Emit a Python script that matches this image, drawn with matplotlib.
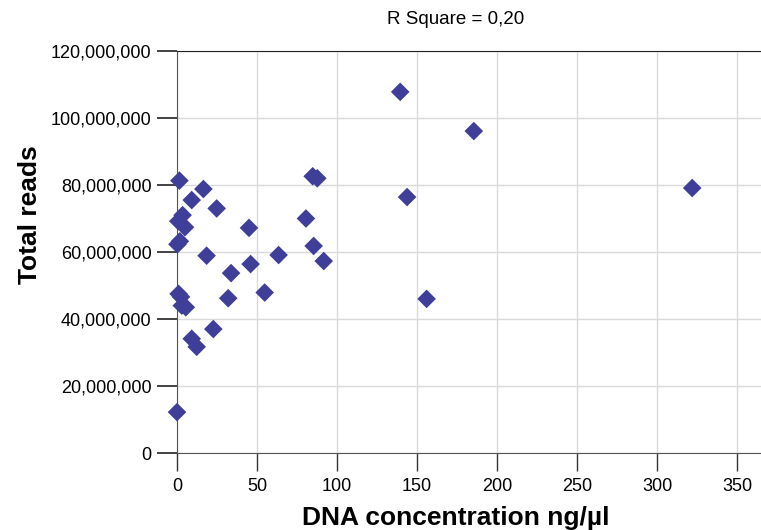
import matplotlib
matplotlib.use("Agg")
import matplotlib.pyplot as plt
from matplotlib.ticker import FuncFormatter

# DNA concentration (ng/ul) and total reads
dna_conc = [139.5, 185.5, 322.0, 143.8, 156.0, 0.0,
            1.5, 16.5, 9.2, 24.8, 84.8, 87.7, 80.6,
            3.5, 0.8, 5.0, 1.8, 0.3, 45.0, 18.5, 85.4,
            91.7, 63.5, 46.0, 33.8, 1.0, 2.5, 3.0, 5.5,
            32.0, 54.8, 22.7, 9.2, 12.3]
total_reads = [107.8e6, 96.1e6, 79.1e6, 76.4e6, 46.0e6, 12.2e6,
               81.3e6, 78.8e6, 75.5e6, 73.0e6, 82.6e6, 82.0e6, 70.0e6,
               71.0e6, 69.2e6, 67.4e6, 63.2e6, 62.3e6, 67.2e6, 58.9e6, 61.8e6,
               57.3e6, 59.1e6, 56.4e6, 53.7e6, 47.5e6, 46.6e6, 44.0e6, 43.5e6,
               46.2e6, 47.9e6, 37.0e6, 34.1e6, 31.7e6]

r_square = "R Square = 0,20"
x_ticks = [0, 50, 100, 150, 200, 250, 300, 350]
y_ticks = [0, 20e6, 40e6, 60e6, 80e6, 100e6, 120e6]

plt.rcParams['font.family'] = ['Liberation Sans', 'DejaVu Sans']

fig = plt.figure(figsize=(7.61, 5.30), dpi=100)
ax = fig.add_axes([177 / 761, 1 - 453 / 530, 1 - 177 / 761, (453 - 51) / 530])

ax.scatter(dna_conc, total_reads, marker='D', s=90, color='#3f3f99',
           edgecolors='none', zorder=3, clip_on=False)

ax.set_xlim(0, 365)
ax.set_ylim(0, 120e6)
ax.set_xticks(x_ticks)
ax.set_yticks(y_ticks)
ax.yaxis.set_major_formatter(FuncFormatter(lambda v, p: "{:,.0f}".format(v)))

ax.grid(True, color='#dadada', linewidth=1)
ax.set_axisbelow(True)
ax.spines['right'].set_visible(False)
ax.spines['top'].set_color('#222222')
ax.spines['left'].set_color('#555555')
ax.spines['bottom'].set_color('#555555')
ax.tick_params(axis='y', length=14.4, width=1.2, color='#222222', labelsize=13, pad=4)
ax.tick_params(axis='x', length=13, width=1, color='#333333', labelsize=13, pad=5)

fig.text(456 / 761, 1 - 20 / 530, r_square, ha='center', va='center', fontsize=13.5)
fig.text(456 / 761, 1 - 518 / 530, "DNA concentration ng/\u00b5l", ha='center',
         va='center', fontsize=19, fontweight='bold')
fig.text(30 / 761, 1 - 215 / 530, "Total reads", ha='center', va='center',
         rotation=90, fontsize=19, fontweight='bold')

fig.savefig("out.png", dpi=100)
